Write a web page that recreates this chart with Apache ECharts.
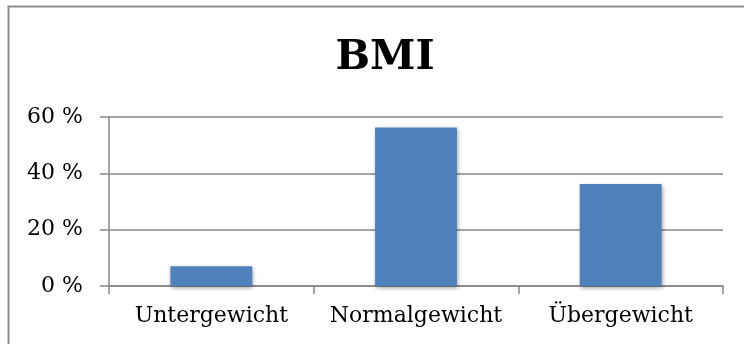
<!DOCTYPE html>
<html>
<head>
<meta charset="utf-8">
<script src="https://cdn.jsdelivr.net/npm/echarts@6/dist/echarts.min.js"></script>
<style>
  html, body { margin: 0; padding: 0; background: #ffffff; }
  #chart { width: 744px; height: 344px; }
</style>
</head>
<body>
<div id="chart"></div>
<script>
// BMI distribution (share of respondents, percent)
const categories = ['Untergewicht', 'Normalgewicht', 'Übergewicht'];
const shares = [7.0, 56.3, 36.2];
const yTicks = [0, 20, 40, 60];

const serif = '"DejaVu Serif", "Liberation Serif", serif';
const gray = '#878787';

const chart = echarts.init(document.getElementById('chart'), null, { renderer: 'canvas' });

chart.setOption({
  backgroundColor: '#ffffff',
  animation: false,
  title: {
    text: 'BMI',
    left: 380,
    top: 33,
    textAlign: 'center',
    textStyle: { fontFamily: serif, fontWeight: 'bold', fontSize: 41, color: '#000000' }
  },
  graphic: [{
    type: 'rect',
    shape: { x: 8.5, y: 6.5, width: 800, height: 400 },
    style: { fill: 'none', stroke: '#8c8c8c', lineWidth: 2 },
    silent: true
  }],
  grid: { left: 109, right: 21, top: 117, bottom: 58 },
  xAxis: {
    type: 'category',
    data: categories,
    axisLine: { show: true, lineStyle: { color: gray, width: 1.5 } },
    axisTick: { show: true, interval: 0, alignWithLabel: false, length: 8, lineStyle: { color: gray, width: 1.5 } },
    axisLabel: { interval: 0, fontFamily: serif, fontSize: 22, color: '#000000', margin: 19 },
    splitLine: { show: false }
  },
  yAxis: {
    type: 'value',
    min: yTicks[0],
    max: yTicks[yTicks.length - 1],
    interval: yTicks[1] - yTicks[0],
    axisLine: { show: true, lineStyle: { color: gray, width: 1.5 } },
    axisTick: { show: true, length: 9, lineStyle: { color: gray, width: 1.5 } },
    axisLabel: {
      fontFamily: serif, fontSize: 22, color: '#000000', margin: 26,
      formatter: v => v + ' %'
    },
    splitLine: { show: true, lineStyle: { color: gray, width: 1.5 } }
  },
  series: [{
    type: 'bar',
    data: shares,
    barCategoryGap: '60%',
    itemStyle: {
      color: '#4F81BD',
      shadowColor: 'rgba(0,0,0,0.35)',
      shadowBlur: 4,
      shadowOffsetX: 1,
      shadowOffsetY: 2
    }
  }]
});
</script>
</body>
</html>
